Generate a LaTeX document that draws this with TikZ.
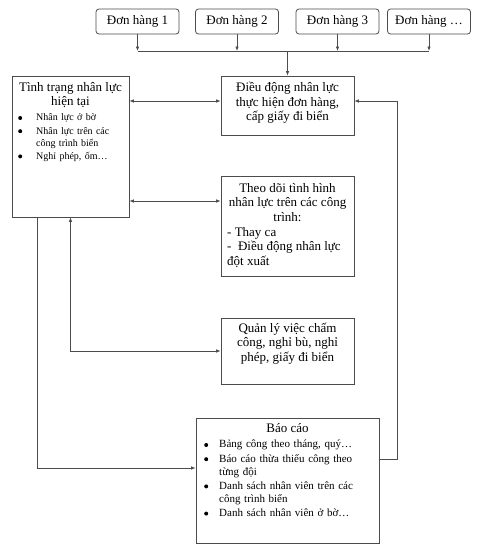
\documentclass[tikz,border=0pt]{standalone}
\usepackage{fontspec}
\setmainfont{Liberation Serif}
\usetikzlibrary{arrows.meta}
\newcommand\bulmark{\tikz[baseline=-2.9pt,x=1pt,y=1pt]\fill (0pt,0pt) circle[radius=2pt];}
\newcommand\bitem[2]{\par\vspace{1.2pt}\hangindent=#1\hangafter=1\noindent\hbox to #1{\hspace{1pt}\bulmark\hfil}#2}
\newcommand\brk{\hfil\break}
\begin{document}
\begin{tikzpicture}[x=1pt,y=-1pt,
  box/.style={draw=black!70,line width=0.8pt,inner sep=0pt},
  orderbox/.style={box,rounded corners=3pt,minimum width=83pt,minimum height=25pt,font=\fontsize{13}{14.5}\selectfont},
  conn/.style={draw=black!70,line width=0.8pt},
  arr/.style={conn,-{Latex[length=4.5pt,width=3.6pt]}},
  darr/.style={conn,{Latex[length=4.5pt,width=3.6pt]}-{Latex[length=4.5pt,width=3.6pt]}},
  maintext/.style={font=\fontsize{13}{14.5}\selectfont,align=center,inner sep=0pt},
  lefttext/.style={font=\fontsize{13}{14.5}\selectfont,align=left,inner sep=0pt},
  smalllist/.style={inner sep=0pt,align=left}]
\useasboundingbox (0,0) rectangle (500,554);
\fill[white] (0,0) rectangle (500,554);

% order boxes
\node[orderbox] (o1) at (137.5,21.5) {Đơn hàng 1};
\node[orderbox] (o2) at (237,21.5) {Đơn hàng 2};
\node[orderbox] (o3) at (337.5,21.5) {Đơn hàng 3};
\node[orderbox] (o4) at (429,21.5) {Đơn hàng …};
\coordinate (j) at (287.5,51);

% main boxes
\node[box,minimum width=117pt,minimum height=141pt] (L) at (70.5,146.5) {};
\node[box,minimum width=133pt,minimum height=59pt] (D) at (287.5,105.5) {};
\node[box,minimum width=133pt,minimum height=100pt] (T) at (287.5,226) {};
\node[box,minimum width=133pt,minimum height=66pt] (Q) at (287.5,351) {};
\node[box,minimum width=183pt,minimum height=125pt] (B) at (287.5,480.5) {};

% texts
\node[maintext] (Lt) at (70.5,95) {Tình trạng nhân lực\\hiện tại};
\node[smalllist,text width=108pt,anchor=north west,font=\fontsize{10}{12}\selectfont] (Ll) at (17,107.5)
  {\bitem{19pt}{Nhân lực ở bờ}\bitem{19pt}{Nhân lực trên các\brk công trình biển}\bitem{19pt}{Nghỉ phép, ốm…}};
\node[maintext] (Dt) at (287.5,103) {Điều động nhân lực\\thực hiện đơn hàng,\\cấp giấy đi biển};
\node[maintext] (Tt) at (287.5,202.5) {Theo dõi tình hình\\nhân lực trên các công\\trình:};
\node[lefttext,anchor=north west] (Tl) at (227,227) {- Thay ca\\-\ \ Điều động nhân lực\\đột xuất};
\node[maintext] (Qt) at (287.5,343.5) {Quản lý việc chấm\\công, nghỉ bù, nghỉ\\phép, giấy đi biển};
\node[maintext] (Bt) at (287.5,428.5) {Báo cáo};
\node[smalllist,text width=170pt,anchor=north west,font=\fontsize{11}{13}\selectfont] (Bl) at (203,433.5)
  {\bitem{16pt}{Bảng công theo tháng, quý…}\bitem{16pt}{Báo cáo thừa thiếu công theo\brk từng đội}\bitem{16pt}{Danh sách nhân viên trên các\brk công trình biển}\bitem{16pt}{Danh sách nhân viên ở bờ…}};

% connectors from orders
\foreach \o in {o1,o2,o3,o4} \draw[arr] (\o.south) -- (\o.south |- j);
\draw[conn] (o1.south |- j) -- (o4.south |- j);
\draw[arr] (j) -- (D.north);

\coordinate (y1) at (0,101);
\coordinate (y2) at (0,201);
\coordinate (y3) at (0,468);
\coordinate (y4) at (0,459);
\coordinate (xl) at (37,0);
\coordinate (xr) at (397,0);

\draw[darr] (L.east |- y1) -- (D.west |- y1);
\draw[darr] (L.east |- y2) -- (T.west |- y2);
\draw[darr] (L.south) -- (L.south |- Q.west) -- (Q.west);
\draw[arr] (xl |- L.south) -- (xl |- y3) -- (B.west |- y3);
\draw[arr] (B.east |- y4) -- (xr |- y4) -- (xr |- y1) -- (D.east |- y1);
\end{tikzpicture}
\end{document}
